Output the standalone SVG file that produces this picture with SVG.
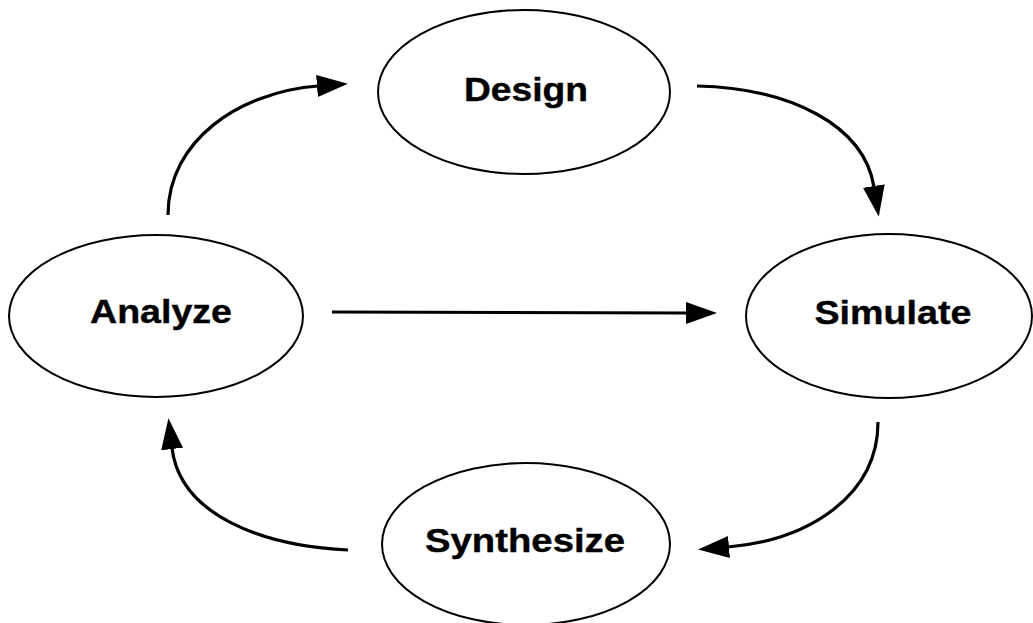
<svg xmlns="http://www.w3.org/2000/svg" width="1033" height="623" viewBox="0 0 1033 623">
<style>
.node ellipse{fill:#fff;stroke:#000;stroke-width:2}
.node text{font-family:"Liberation Sans",Arial,sans-serif;font-weight:bold;font-size:34px;fill:#000;text-anchor:middle;stroke:#000;stroke-width:0.4}
.conn path{fill:none;stroke:#000;stroke-width:3.2}
</style>
<defs>
<marker id="ah" markerUnits="userSpaceOnUse" markerWidth="32" markerHeight="24" refX="1" refY="11" orient="auto">
<path d="M0,0 L31,11 L0,22 z" fill="#000"/>
</marker>
</defs>
<rect width="1033" height="623" fill="#fff"/>
<g id="connectors" class="conn">
<path d="M168,215 C168,140 240,92 318,86" marker-end="url(#ah)"/>
<path d="M697,86 C790,88 864,125 874,187" marker-end="url(#ah)"/>
<path d="M332,312 L687,313" marker-end="url(#ah)"/>
<path d="M878,422 C878,495 810,540 728,547" marker-end="url(#ah)"/>
<path d="M348,550 C262,546 180,515 172,448" marker-end="url(#ah)"/>
</g>
<g id="design" class="node">
<ellipse cx="524" cy="92" rx="146" ry="82"/>
<text x="526" y="101" textLength="124" lengthAdjust="spacingAndGlyphs">Design</text>
</g>
<g id="analyze" class="node">
<ellipse cx="156" cy="316" rx="147" ry="81"/>
<text x="161" y="323" textLength="142" lengthAdjust="spacingAndGlyphs">Analyze</text>
</g>
<g id="simulate" class="node">
<ellipse cx="889" cy="316" rx="143" ry="82"/>
<text x="893" y="324" textLength="157" lengthAdjust="spacingAndGlyphs">Simulate</text>
</g>
<g id="synthesize" class="node">
<ellipse cx="526" cy="544" rx="144" ry="81"/>
<text x="525" y="552" textLength="200" lengthAdjust="spacingAndGlyphs">Synthesize</text>
</g>
</svg>
